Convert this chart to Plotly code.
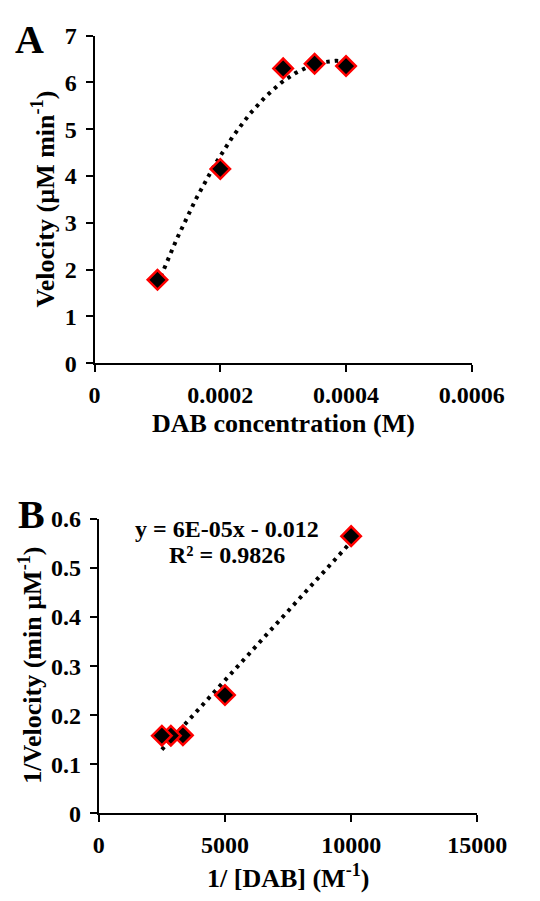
import numpy as np
import plotly.graph_objects as go

# ---- Data ----
dab_conc = [0.0001, 0.0002, 0.0003, 0.00035, 0.0004]
velocity = [1.78, 4.15, 6.30, 6.40, 6.35]

inv_dab = [10000, 5000, 3333, 2857, 2500]
inv_velocity = [0.565, 0.241, 0.159, 0.158, 0.158]

a_xticks = [0, 0.0002, 0.0004, 0.0006]
a_xticktext = ["0", "0.0002", "0.0004", "0.0006"]
a_yticks = [0, 1, 2, 3, 4, 5, 6, 7]
b_xticks = [0, 5000, 10000, 15000]
b_xticktext = ["0", "5000", "10000", "15000"]
b_yticks = [0, 0.1, 0.2, 0.3, 0.4, 0.5, 0.6]
b_yticktext = ["0", "0.1", "0.2", "0.3", "0.4", "0.5", "0.6"]

W, H = 540, 901
FONT = "Liberation Serif, Times New Roman, serif"

# trendlines (fits of the data)
ca = np.polyfit(dab_conc, velocity, 2)
xa = np.linspace(min(dab_conc), max(dab_conc), 200)
ya = np.polyval(ca, xa)
cb = np.polyfit(inv_dab, inv_velocity, 1)
xb = np.linspace(min(inv_dab), max(inv_dab), 100)
yb = np.polyval(cb, xb)

fig = go.Figure()
dotline = dict(color="black", width=4, dash="3.5px,5px")
marker = dict(symbol="diamond", size=15, color="black", line=dict(color="#ff0000", width=2.5))

fig.add_trace(go.Scatter(x=xa, y=ya, mode="lines", line=dotline, xaxis="x", yaxis="y", showlegend=False, hoverinfo="skip"))
fig.add_trace(go.Scatter(x=dab_conc, y=velocity, mode="markers", marker=marker, xaxis="x", yaxis="y", showlegend=False))
fig.add_trace(go.Scatter(x=xb, y=yb, mode="lines", line=dotline, xaxis="x2", yaxis="y2", showlegend=False, hoverinfo="skip"))
fig.add_trace(go.Scatter(x=inv_dab, y=inv_velocity, mode="markers", marker=marker, xaxis="x2", yaxis="y2", showlegend=False))

def px(x):
    return x / W

def py(y):
    return 1 - y / H

tickfont = dict(family=FONT, size=24, color="black", weight="bold")
common = dict(showgrid=False, zeroline=False, showline=True, linecolor="black", linewidth=2,
              ticks="outside", ticklen=7, tickwidth=2, tickcolor="black", tickfont=tickfont,
              fixedrange=True)

fig.update_layout(
    width=W, height=H,
    margin=dict(l=0, r=0, t=0, b=0),
    paper_bgcolor="white", plot_bgcolor="white",
    xaxis=dict(domain=[px(95.5), px(502)], anchor="y", range=[0, 0.0006],
               tickvals=a_xticks, ticktext=a_xticktext, ticklabelstandoff=2, **common),
    yaxis=dict(domain=[py(360.5), py(23.3)], anchor="x", range=[0, 7],
               tickvals=a_yticks, ticklabelstandoff=4, **common),
    xaxis2=dict(domain=[px(100), px(508)], anchor="y2", range=[0, 15000],
                tickvals=b_xticks, ticktext=b_xticktext, ticklabelstandoff=2, **common),
    yaxis2=dict(domain=[py(824), py(521)], anchor="x2", range=[0, 0.6],
                tickvals=b_yticks, ticktext=b_yticktext, ticklabelstandoff=4, **common),
)

def ann(text, x, y, size, angle=0):
    fig.add_annotation(text=text, x=px(x), y=py(y), xref="paper", yref="paper",
                       showarrow=False, textangle=angle, xanchor="center", yanchor="middle",
                       font=dict(family=FONT, size=size, color="black", weight="bold"))

ann("A", 25, 27, 40)
ann("B", 28, 516, 40)
ann("Velocity (µM min<sup>-1</sup>)", 40, 192, 26, -90)
ann("DAB concentration (M)", 299, 423, 26)
ann("1/Velocity (min µM<sup>-1</sup>)", 27, 672, 26, -90)
ann("1/ [DAB] (M<sup>-1</sup>)", 304, 889, 26)
ann("y = 6E-05x - 0.012", 238, 531, 24)
ann("R² = 0.9826", 238, 558, 24)

fig.write_html("out.html")
